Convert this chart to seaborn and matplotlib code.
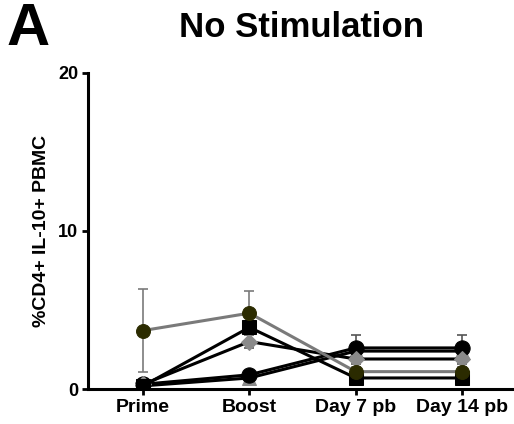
import matplotlib
matplotlib.use('Agg')
import matplotlib.pyplot as plt
import pandas as pd
import seaborn as sns

# time points
timepoints = ['Prime', 'Boost', 'Day 7 pb', 'Day 14 pb']

# % CD4+ IL-10+ PBMC per group (mean) and error (sd)
olive_mean = [3.7, 4.8, 1.1, 1.1]
olive_err = [2.6, 1.4, 0.3, 0.3]
square_mean = [0.2, 3.9, 0.7, 0.7]
square_err = [0.1, 0.3, 0.1, 0.1]
diamond_mean = [0.3, 3.0, 1.9, 1.9]
diamond_err = [0.1, 0.4, 0.3, 0.3]
circle_mean = [0.3, 0.9, 2.6, 2.6]
circle_err = [0.1, 0.2, 0.8, 0.8]
triangle_mean = [0.2, 0.7, 2.4, 2.4]
triangle_err = [0.1, 0.2, 0.5, 0.5]

sns.set_style('ticks')
plt.rcParams['font.family'] = ['Liberation Sans', 'DejaVu Sans']
plt.rcParams['font.weight'] = 'bold'
# plain black text and axes, like the original figure
for k in ['text.color', 'axes.labelcolor', 'xtick.color', 'ytick.color', 'axes.edgecolor']:
    plt.rcParams[k] = 'black'

fig = plt.figure(figsize=(5.14, 4.24), dpi=100)
ax = fig.add_axes([0.171, 0.0825, 0.829, 0.7455])

# (mean, err, marker, marker color, line color, marker size)
groups = [
    (triangle_mean, triangle_err, '^', '#8a8a8a', 'black', 10),
    (circle_mean, circle_err, 'o', 'black', 'black', 11),
    (diamond_mean, diamond_err, 'D', '#8a8a8a', 'black', 8),
    (square_mean, square_err, 's', 'black', 'black', 10),
    (olive_mean, olive_err, 'o', '#2b2b00', '#7a7a7a', 10),
]

x = list(range(len(timepoints)))
for mean, err, mk, mc, lc, ms in groups:
    df = pd.DataFrame({'x': x, 'y': mean})
    ax.errorbar(x, mean, yerr=err, fmt='none', ecolor=lc if lc != 'black' else '#555555',
                elinewidth=1.2, capsize=3.5, capthick=1.2, zorder=2)
    sns.lineplot(data=df, x='x', y='y', ax=ax, color=lc, linewidth=2.2,
                 marker=mk, markersize=ms, markerfacecolor=mc,
                 markeredgecolor=mc, zorder=3)

ax.set_xlim(-0.52, 3.49)
ax.set_ylim(0, 20)
ax.set_xticks(x)
ax.set_xticklabels(timepoints, fontsize=14, fontweight='bold')
ax.set_yticks([0, 10, 20])
ax.set_yticklabels(['0', '10', '20'], fontsize=13, fontweight='bold')
ax.set_xlabel('')
ax.set_ylabel('%CD4+ IL-10+ PBMC', fontsize=14, fontweight='bold', labelpad=6)
ax.tick_params(axis='both', width=2, length=4, direction='out', pad=3)
sns.despine(ax=ax)
for s in ['left', 'bottom']:
    ax.spines[s].set_linewidth(2.2)

fig.text(0.586, 0.912, 'No Stimulation', ha='center', va='baseline',
         fontsize=25, fontweight='bold')
fig.text(0.012, 0.894, 'A', ha='left', va='baseline', fontsize=43, fontweight='bold')

fig.savefig('out.png', dpi=100)
